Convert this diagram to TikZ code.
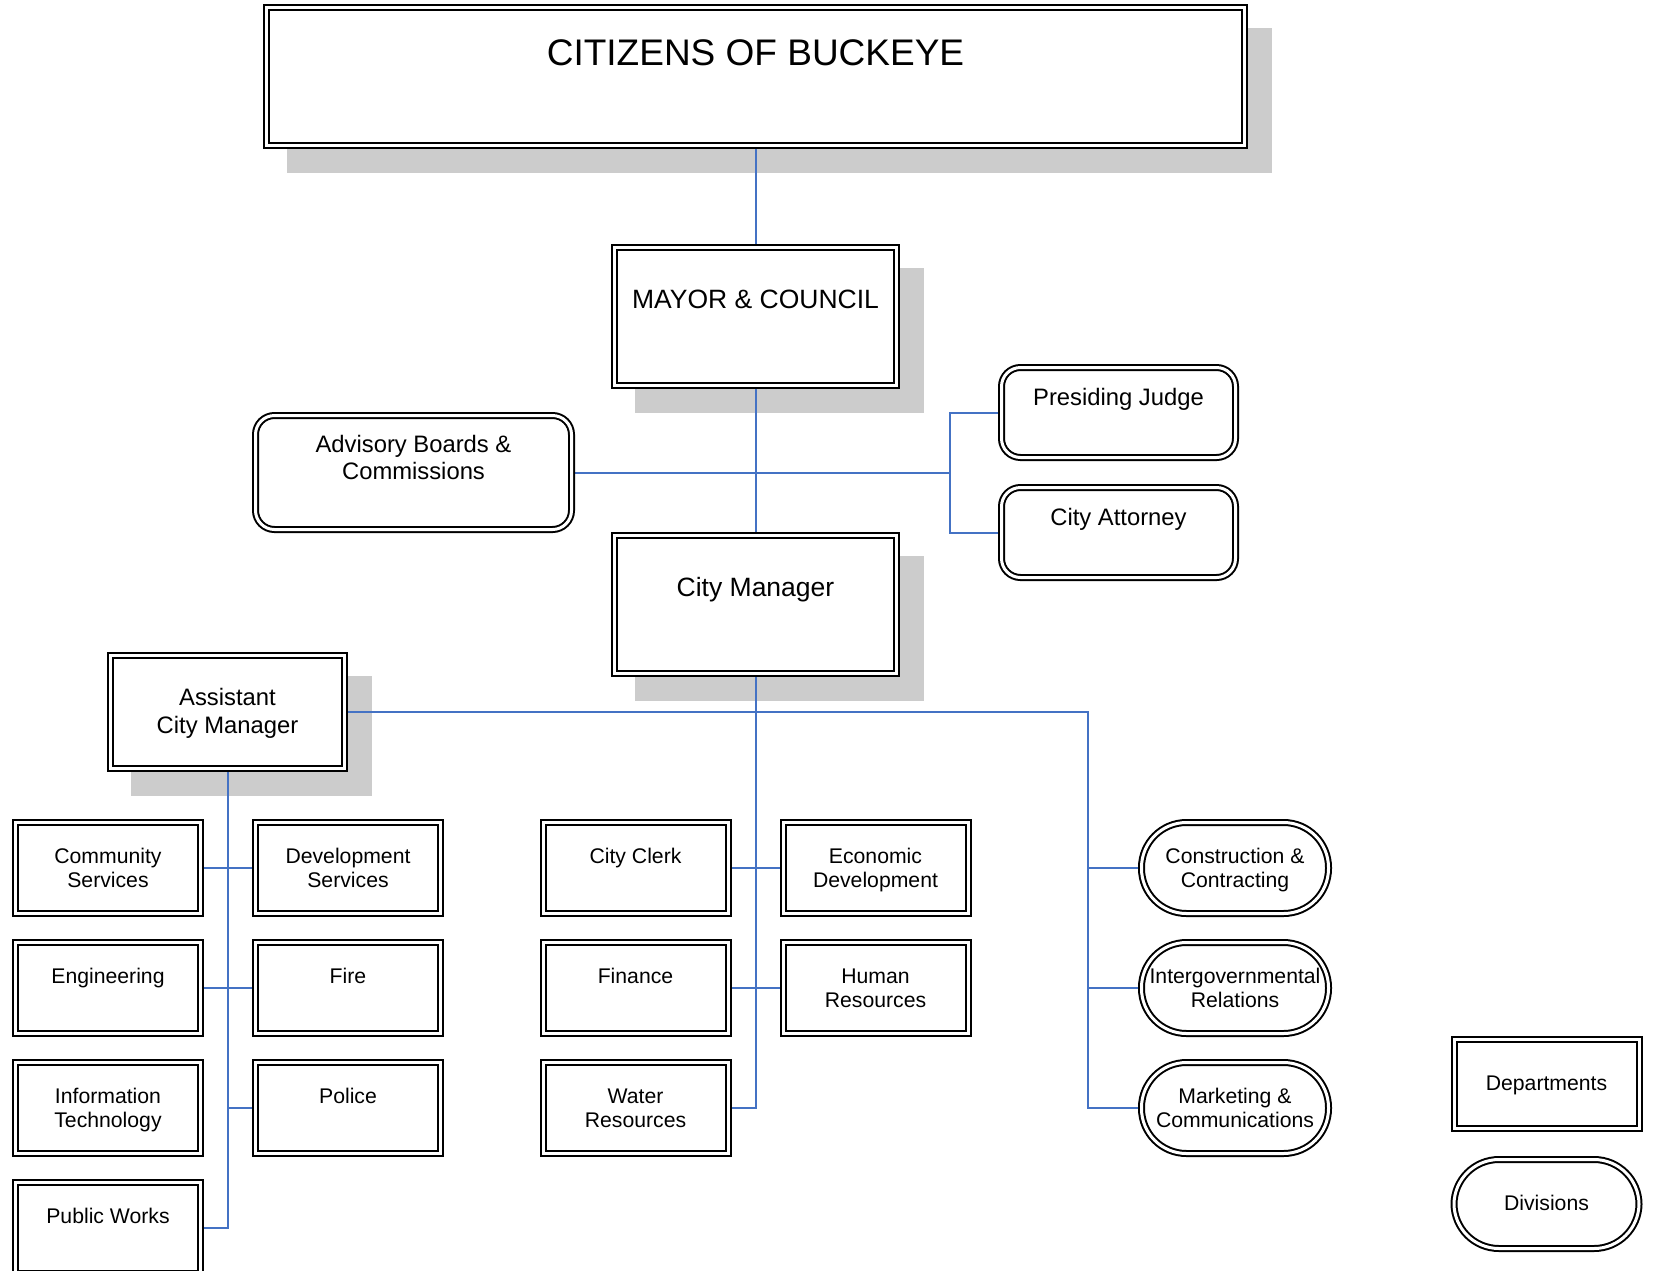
\documentclass[tikz,border=0pt]{standalone}
\usepackage{fontspec}
\setmainfont{Liberation Sans}
\usetikzlibrary{positioning}

\definecolor{linkblue}{RGB}{68,114,196}
\definecolor{shadowgray}{RGB}{204,204,204}

\pgfdeclarelayer{shadowlayer}
\pgfdeclarelayer{linklayer}
\pgfsetlayers{shadowlayer,linklayer,main}

\newcommand{\tstack}[1]{\begin{tabular}[t]{@{}c@{}}#1\end{tabular}}

\tikzset{
  frame/.style={draw, double, line width=2pt, double distance=3pt, fill=white, inner sep=0pt},
  topbox/.style={frame, minimum width=978pt, text height=57.5pt, text depth=80.5pt, font=\fontsize{37}{44}\selectfont},
  headbox/.style={frame, minimum width=282pt, text height=61pt, text depth=77pt, font=\fontsize{26.5}{31}\selectfont},
  midbox/.style={frame, minimum width=234pt, text height=49.5pt, text depth=63.5pt, font=\fontsize{23.8}{28}\selectfont},
  officebox/.style={frame, rounded corners=19pt, minimum width=234pt, text height=37.5pt, text depth=52.5pt, font=\fontsize{23.8}{27.5}\selectfont},
  dept/.style={frame, minimum width=185pt, text height=40.5pt, text depth=50.5pt, font=\fontsize{21.2}{24.5}\selectfont},
  division/.style={dept, rounded corners=45pt, minimum width=187pt},
  keybox/.style={text height=51pt, text depth=38pt},
  link/.style={draw=linkblue, line width=2pt},
}

\begin{document}
\begin{tikzpicture}[x=1pt, y=-1pt, node distance=27pt and 53pt]
    \useasboundingbox (0,0) rectangle (1655,1270);

    % top of the chart
    \node[topbox]   (citizens)  at (755.5,76.5)    {CITIZENS OF BUCKEYE};
    \node[headbox]  (mayor)     at (755.5,316.5)   {MAYOR \& COUNCIL};
    \node[headbox]  (manager)   at (755.5,604.5)   {City Manager};
    \node[officebox, minimum width=316pt, text height=36.5pt, text depth=77.5pt]
                    (advisory)  at (413.5,472.5)   {\tstack{Advisory Boards \&\\Commissions}};
    \node[officebox] (judge)    at (1118.5,412.5)  {Presiding Judge};
    \node[officebox] (attorney) [below=28pt of judge] {City Attorney};
    \node[midbox]   (asst)      at (227.5,712)     {\tstack{Assistant\\City Manager}};

    % departments under the assistant city manager
    \node[dept]     (comm)      at (108,868)       {\tstack{Community\\Services}};
    \node[dept]     (devs)      [right=of comm]    {\tstack{Development\\Services}};
    \node[dept]     (eng)       [below=of comm]    {Engineering};
    \node[dept]     (fire)      [right=of eng]     {Fire};
    \node[dept]     (info)      [below=of eng]     {\tstack{Information\\Technology}};
    \node[dept]     (police)    [right=of info]    {Police};
    \node[dept]     (pubw)      [below=of info]    {Public Works};

    % departments under the city manager
    \node[dept]     (clerk)     at (635.5,868)     {City Clerk};
    \node[dept]     (econ)      [right=of clerk]   {\tstack{Economic\\Development}};
    \node[dept]     (finance)   [below=of clerk]   {Finance};
    \node[dept]     (hr)        [right=of finance] {\tstack{Human\\Resources}};
    \node[dept]     (water)     [below=of finance] {\tstack{Water\\Resources}};

    % divisions
    \node[division] (cons)      at (1235,868)      {\tstack{Construction \&\\Contracting}};
    \node[division] (intg)      [below=of cons]    {\tstack{Intergovernmental\\Relations}};
    \node[division] (mkt)       [below=of intg]    {\tstack{Marketing \&\\Communications}};

    % legend
    \node[dept, keybox]     (keydept) at (1546.5,1084)          {Departments};
    \node[division, keybox, minimum width=185pt] (keydiv) [below=29pt of keydept] {Divisions};

    \coordinate (legal)  at (950,472.5);
    \coordinate (divtop) at (1088,712);

    \begin{pgfonlayer}{shadowlayer}
    \foreach \n in {citizens,mayor,manager,asst}
        \fill[shadowgray] ([shift={(21.5,21.5)}]\n.north west) rectangle ([shift={(26.5,26.5)}]\n.south east);
    \end{pgfonlayer}

    \begin{pgfonlayer}{linklayer}
    \draw[link] (citizens.south) -- (mayor.north);
    \draw[link] (mayor.south) -- (manager.north);
    \draw[link] (advisory.east) -- (legal);
    \draw[link] (judge.west) -| (legal) |- (attorney.west);

    \draw[link] (manager.south) |- (water.east);
    \draw[link] (clerk.east) -- (econ.west);
    \draw[link] (finance.east) -- (hr.west);

    \draw[link] (asst.east) -- (divtop) |- (mkt.west);
    \draw[link] (cons.west) -- (cons.west -| divtop);
    \draw[link] (intg.west) -- (intg.west -| divtop);

    \draw[link] (asst.south) |- (pubw.east);
    \draw[link] (comm.east) -- (devs.west);
    \draw[link] (eng.east) -- (fire.west);
    \draw[link] (police.west) -- (police.west -| asst.south);
    \end{pgfonlayer}
\end{tikzpicture}
\end{document}
